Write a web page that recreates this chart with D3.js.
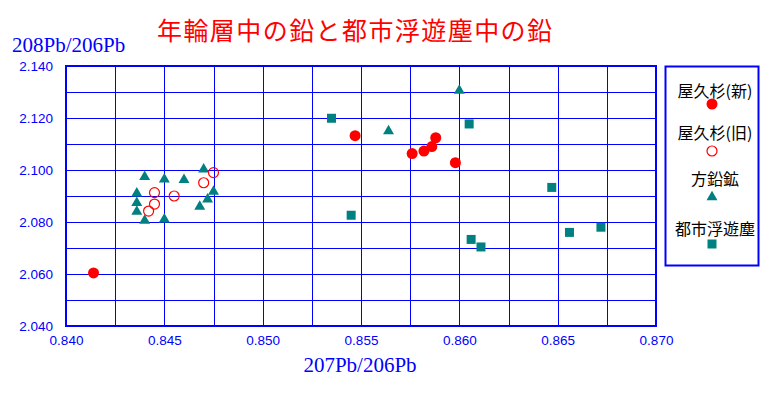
<!DOCTYPE html>
<html>
<head>
<meta charset="utf-8">
<script src="https://cdn.jsdelivr.net/npm/d3@7"></script>
<style>
  body { margin: 0; background: #fff; }
  svg { display: block; }
</style>
</head>
<body>
<svg id="chart" width="774" height="394"></svg>
<script>
// 207Pb/206Pb (x) and 208Pb/206Pb (y)
const yakusugiNewX = [0.8414, 0.8547, 0.8576, 0.8582, 0.8586, 0.8588, 0.8598];
const yakusugiNewY = [2.0604, 2.1132, 2.1063, 2.1073, 2.1090, 2.1124, 2.1028];

const yakusugiOldX = [0.8475, 0.8470, 0.8445, 0.8455, 0.8445, 0.8442];
const yakusugiOldY = [2.0990, 2.0951, 2.0913, 2.0900, 2.0869, 2.0842];

const galenaX = [0.8440, 0.8450, 0.8460, 0.8470, 0.8436, 0.8475, 0.8436, 0.8472, 0.8436, 0.8468, 0.8440, 0.8450, 0.8600, 0.8564];
const galenaY = [2.0974, 2.0964, 2.0962, 2.1003, 2.0910, 2.0917, 2.0874, 2.0887, 2.0840, 2.0859, 2.0805, 2.0810, 2.1305, 2.1150];

const dustX = [0.8535, 0.8605, 0.8545, 0.8647, 0.8656, 0.8672, 0.8606, 0.8611];
const dustY = [2.1199, 2.1177, 2.0826, 2.0933, 2.0760, 2.0780, 2.0733, 2.0704];

const xTicks = [0.840, 0.845, 0.850, 0.855, 0.860, 0.865, 0.870];
const yTicks = [2.040, 2.060, 2.080, 2.100, 2.120, 2.140];
const xGrid = d3.range(0, 13).map(i => 0.840 + i * 0.0025);
const yGrid = d3.range(0, 11).map(i => 2.040 + i * 0.010);

const seriesNames = ["屋久杉(新)", "屋久杉(旧)", "方鉛鉱", "都市浮遊塵"];
const title = "年輪層中の鉛と都市浮遊塵中の鉛";
const xTitle = "207Pb/206Pb";
const yTitle = "208Pb/206Pb";

const blue = "#0000ff", red = "#ff0000", teal = "#008080";
const svg = d3.select("#chart");
const margin = { left: 66, top: 66 };
const width = 590, height = 260;

const x = d3.scaleLinear().domain([0.840, 0.870]).range([0, width]);
const y = d3.scaleLinear().domain([2.040, 2.140]).range([height, 0]);

const body = svg.append("g").attr("transform", `translate(${margin.left},${margin.top})`);

// grid
body.append("g")
    .attr("transform", `translate(0,${height})`)
    .call(d3.axisBottom(x).tickValues(xGrid).tickSize(-height).tickFormat(""))
    .call(g => g.select(".domain").remove())
    .call(g => g.selectAll("line").attr("stroke", blue).attr("shape-rendering", "crispEdges"));
body.append("g")
    .call(d3.axisLeft(y).tickValues(yGrid).tickSize(-width).tickFormat(""))
    .call(g => g.select(".domain").remove())
    .call(g => g.selectAll("line").attr("stroke", blue).attr("shape-rendering", "crispEdges"));
body.append("rect")
    .attr("width", width).attr("height", height)
    .attr("fill", "none").attr("stroke", blue).attr("stroke-width", 1.5)
    .attr("shape-rendering", "crispEdges");

// tick labels
body.append("g")
    .attr("transform", `translate(0,${height})`)
    .call(d3.axisBottom(x).tickValues(xTicks).tickSize(0).tickPadding(9).tickFormat(d3.format(".3f")))
    .call(g => g.select(".domain").remove())
    .call(g => g.selectAll("text").attr("fill", blue).attr("font-size", 13.5).attr("font-family", "Liberation Sans, Arial, sans-serif"));
body.append("g")
    .call(d3.axisLeft(y).tickValues(yTicks).tickSize(0).tickPadding(13).tickFormat(d3.format(".3f")))
    .call(g => g.select(".domain").remove())
    .call(g => g.selectAll("text").attr("fill", blue).attr("font-size", 13.5).attr("font-family", "Liberation Sans, Arial, sans-serif"));

// titles
svg.append("text")
    .attr("x", 157).attr("y", 40)
    .attr("font-family", "Noto Sans CJK JP")
    .attr("font-size", 25)
    .attr("textLength", 395).attr("lengthAdjust", "spacing")
    .attr("fill", red)
    .text(title);
svg.append("text")
    .attr("x", 12).attr("y", 52)
    .attr("font-family", "Liberation Serif, Times New Roman, serif")
    .attr("font-size", 21).attr("fill", blue)
    .text(yTitle);
svg.append("text")
    .attr("x", 360).attr("y", 372)
    .attr("text-anchor", "middle")
    .attr("font-family", "Liberation Serif, Times New Roman, serif")
    .attr("font-size", 21).attr("fill", blue)
    .text(xTitle);

// points
const zip = (xs, ys) => xs.map((v, i) => [v, ys[i]]);
const triangle = d3.symbol(d3.symbolTriangle, 52);
const square = d3.symbol(d3.symbolSquare, 81);

body.append("g").selectAll("path")
    .data(zip(galenaX, galenaY)).enter().append("path")
    .attr("d", triangle)
    .attr("transform", d => `translate(${x(d[0])},${y(d[1])})`)
    .attr("fill", teal);
body.append("g").selectAll("path")
    .data(zip(dustX, dustY)).enter().append("path")
    .attr("d", square)
    .attr("transform", d => `translate(${x(d[0])},${y(d[1])})`)
    .attr("fill", teal);
body.append("g").selectAll("circle")
    .data(zip(yakusugiOldX, yakusugiOldY)).enter().append("circle")
    .attr("cx", d => x(d[0])).attr("cy", d => y(d[1])).attr("r", 5)
    .attr("fill", "none").attr("stroke", red).attr("stroke-width", 1.2);
body.append("g").selectAll("circle")
    .data(zip(yakusugiNewX, yakusugiNewY)).enter().append("circle")
    .attr("cx", d => x(d[0])).attr("cy", d => y(d[1])).attr("r", 5.5)
    .attr("fill", red);

// legend
const legend = svg.append("g");
legend.append("rect")
    .attr("x", 665.5).attr("y", 66.5).attr("width", 93).attr("height", 199)
    .attr("fill", "none").attr("stroke", blue).attr("stroke-width", 2);
const lx = 712;
const textY = [97, 139, 185, 235];
const markY = [104, 151, 197, 244];
legend.selectAll("text")
    .data(seriesNames).enter().append("text")
    .attr("x", lx + 3).attr("y", (d, i) => textY[i])
    .attr("text-anchor", "middle")
    .attr("font-family", "Noto Sans CJK JP")
    .attr("font-size", 16).attr("fill", "#000")
    .text(d => d);
legend.append("circle").attr("cx", lx).attr("cy", markY[0]).attr("r", 5.5).attr("fill", red);
legend.append("circle").attr("cx", lx).attr("cy", markY[1]).attr("r", 5)
    .attr("fill", "none").attr("stroke", red).attr("stroke-width", 1.2);
legend.append("path").attr("d", triangle).attr("transform", `translate(${lx},${markY[2]})`).attr("fill", teal);
legend.append("path").attr("d", square).attr("transform", `translate(${lx},${markY[3]})`).attr("fill", teal);
</script>
</body>
</html>
